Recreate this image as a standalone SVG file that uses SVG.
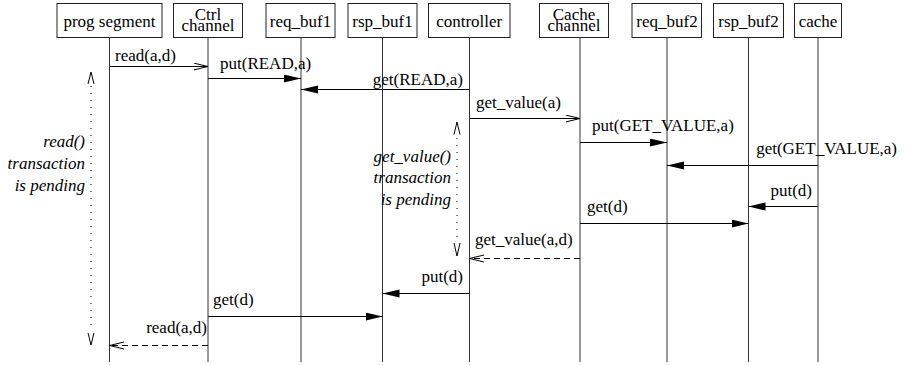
<svg xmlns="http://www.w3.org/2000/svg" width="907" height="365" viewBox="0 0 907 365">
  <style>
    text { font-family: "Liberation Serif", "Times New Roman", serif; font-size: 17px; fill: #000; }
    .hd { text-anchor: middle; }
    .end { text-anchor: end; }
    .it { font-style: italic; }
    .box { fill: #fff; stroke: #222; stroke-width: 1; }
    .life { stroke: #333; stroke-width: 1; }
    .msg { stroke: #000; stroke-width: 1; fill: none; }
    .ret { stroke-dasharray: 6 4; }
    .sync { marker-end: url(#filled); }
    .async { marker-end: url(#open); }
    .pend { stroke: #000; stroke-width: 1; stroke-dasharray: 1 6; fill: none; }
    .chev { stroke: #000; stroke-width: 1; fill: none; }
  </style>
  <defs>
    <marker id="filled" markerUnits="userSpaceOnUse" markerWidth="18" markerHeight="10" refX="17" refY="4" orient="auto">
      <path d="M0,0 L17,4 L0,8 Z" fill="#000"/>
    </marker>
    <marker id="open" markerUnits="userSpaceOnUse" markerWidth="16" markerHeight="10" refX="14.5" refY="4" orient="auto">
      <path d="M0,0.5 L14.5,4 L0,7.5" fill="none" stroke="#000" stroke-width="1"/>
    </marker>
  </defs>

  <!-- participants -->
  <g id="prog_segment">
    <rect class="box" x="57" y="3.5" width="105" height="34"/>
    <text class="hd" x="109.5" y="26.5">prog segment</text>
    <line class="life" x1="109.5" y1="37.5" x2="109.5" y2="362"/>
  </g>
  <g id="ctrl_channel">
    <rect class="box" x="173.5" y="3.5" width="69" height="34"/>
    <text class="hd"><tspan x="208" y="19.5">Ctrl</tspan><tspan x="208" y="30.5">channel</tspan></text>
    <line class="life" x1="208" y1="37.5" x2="208" y2="362"/>
  </g>
  <g id="req_buf1">
    <rect class="box" x="266" y="3.5" width="69" height="34"/>
    <text class="hd" x="300.5" y="26.5">req_buf1</text>
    <line class="life" x1="301" y1="37.5" x2="301" y2="362"/>
  </g>
  <g id="rsp_buf1">
    <rect class="box" x="348" y="3.5" width="69" height="34"/>
    <text class="hd" x="382.5" y="26.5">rsp_buf1</text>
    <line class="life" x1="382.5" y1="37.5" x2="382.5" y2="362"/>
  </g>
  <g id="controller">
    <rect class="box" x="428.5" y="3.5" width="81.5" height="34"/>
    <text class="hd" x="469.2" y="26.5">controller</text>
    <line class="life" x1="469.5" y1="37.5" x2="469.5" y2="362"/>
  </g>
  <g id="cache_channel">
    <rect class="box" x="539.5" y="3.5" width="69" height="34"/>
    <text class="hd"><tspan x="574" y="19.5">Cache</tspan><tspan x="574" y="30.5">channel</tspan></text>
    <line class="life" x1="580" y1="37.5" x2="580" y2="362"/>
  </g>
  <g id="req_buf2">
    <rect class="box" x="632" y="3.5" width="69.5" height="34"/>
    <text class="hd" x="667" y="26.5">req_buf2</text>
    <line class="life" x1="667" y1="37.5" x2="667" y2="362"/>
  </g>
  <g id="rsp_buf2">
    <rect class="box" x="713.5" y="3.5" width="70" height="34"/>
    <text class="hd" x="748.5" y="26.5">rsp_buf2</text>
    <line class="life" x1="748.5" y1="37.5" x2="748.5" y2="362"/>
  </g>
  <g id="cache">
    <rect class="box" x="794.5" y="3.5" width="47" height="34"/>
    <text class="hd" x="818" y="26.5">cache</text>
    <line class="life" x1="818" y1="37.5" x2="818" y2="362"/>
  </g>

  <!-- messages -->
  <g id="connectors">
    <line class="msg async" x1="109.5" y1="66.5" x2="208" y2="66.5"/>
    <line class="msg sync" x1="208" y1="78.5" x2="301" y2="78.5"/>
    <line class="msg sync" x1="469.5" y1="89.5" x2="301" y2="89.5"/>
    <line class="msg async" x1="469.5" y1="118.5" x2="580" y2="118.5"/>
    <line class="msg sync" x1="580" y1="142.5" x2="667" y2="142.5"/>
    <line class="msg sync" x1="818" y1="165.5" x2="667" y2="165.5"/>
    <line class="msg sync" x1="818" y1="206.5" x2="748.5" y2="206.5"/>
    <line class="msg sync" x1="580" y1="223.5" x2="748.5" y2="223.5"/>
    <line class="msg ret async" x1="580" y1="258.5" x2="469.5" y2="258.5"/>
    <line class="msg sync" x1="469.5" y1="293.5" x2="382.5" y2="293.5"/>
    <line class="msg sync" x1="208" y1="316.5" x2="382.5" y2="316.5"/>
    <line class="msg ret async" x1="208" y1="345.5" x2="109.5" y2="345.5"/>
  </g>

  <!-- message labels -->
  <g id="labels">
    <text x="115" y="61">read(a,d)</text>
    <text x="220" y="69">put(READ,a)</text>
    <text class="end" x="463" y="84.5">get(READ,a)</text>
    <text x="476" y="108">get_value(a)</text>
    <text x="592" y="131">put(GET_VALUE,a)</text>
    <text class="end" x="897" y="154">get(GET_VALUE,a)</text>
    <text class="end" x="812" y="196">put(d)</text>
    <text x="587" y="212">get(d)</text>
    <text x="475" y="245">get_value(a,d)</text>
    <text class="end" x="463" y="282">put(d)</text>
    <text x="213" y="305">get(d)</text>
    <text class="end" x="207" y="333">read(a,d)</text>
  </g>

  <!-- pending transaction spans -->
  <g id="read_pending">
    <line class="pend" x1="91" y1="86" x2="91" y2="331"/>
    <path class="chev" d="M88,84 L91,72 L94,84"/>
    <path class="chev" d="M88,333 L91,345 L94,333"/>
    <text class="it end" x="85" y="147">read()</text>
    <text class="it end" x="85" y="169">transaction</text>
    <text class="it end" x="85" y="191">is pending</text>
  </g>
  <g id="get_value_pending">
    <line class="pend" x1="457" y1="138" x2="457" y2="240"/>
    <path class="chev" d="M454,134.5 L457,122 L460,134.5"/>
    <path class="chev" d="M454,243 L457,256 L460,243"/>
    <text class="it end" x="451" y="161.5">get_value()</text>
    <text class="it end" x="451" y="183">transaction</text>
    <text class="it end" x="451" y="204.5">is pending</text>
  </g>
</svg>
